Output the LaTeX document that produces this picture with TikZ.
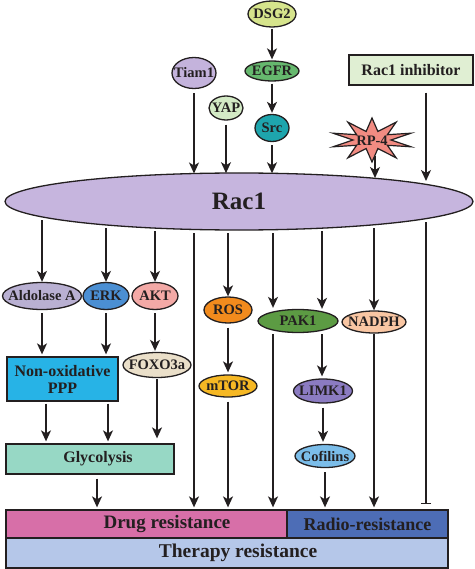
\documentclass[tikz,border=0pt]{standalone}
\usepackage{fontspec}
\setmainfont{Liberation Serif}
\usetikzlibrary{shapes.geometric,arrows.meta}
\definecolor{ink}{HTML}{231F20}
\definecolor{cDSG}{HTML}{D6E48C}
\definecolor{cEGFR}{HTML}{66B86E}
\definecolor{cSrc}{HTML}{1EA5AD}
\definecolor{cTiam}{HTML}{C4B3DC}
\definecolor{cYAP}{HTML}{D3EAC5}
\definecolor{cInh}{HTML}{E0EFD3}
\definecolor{cRP}{HTML}{F28B82}
\definecolor{cRac}{HTML}{C6B5DE}
\definecolor{cAld}{HTML}{B9B0D2}
\definecolor{cERK}{HTML}{4B8FD3}
\definecolor{cAKT}{HTML}{F3A9A6}
\definecolor{cFOX}{HTML}{EADFC9}
\definecolor{cNox}{HTML}{27B3E6}
\definecolor{cGly}{HTML}{97D8C5}
\definecolor{cROS}{HTML}{F28B1D}
\definecolor{cMTOR}{HTML}{F6B824}
\definecolor{cPAK}{HTML}{5C9B43}
\definecolor{cNADPH}{HTML}{F9C6A3}
\definecolor{cLIMK}{HTML}{8B7BC1}
\definecolor{cCof}{HTML}{7BBDE9}
\definecolor{cDrug}{HTML}{D76FA8}
\definecolor{cRadio}{HTML}{4D6DB6}
\definecolor{cTher}{HTML}{B5C7E9}
\newcommand{\zerowd}[1]{\makebox[0pt]{#1}}
\begin{document}
\begin{tikzpicture}[x=1pt,y=-1pt,
  every node/.style={text=ink},
  ell/.style={ellipse, draw=ink, line width=1.3pt, inner sep=0pt, font=\fontsize{14.5}{16}\selectfont\bfseries},
  box/.style={rectangle, draw=ink, line width=1.3pt, inner sep=0pt, align=center},
  arr/.style={draw=ink, line width=1.4pt, -{Stealth[length=11pt,width=10pt,inset=3pt]}},
  inh/.style={draw=ink, line width=1.4pt, -{Bar[width=10pt]}},
]
\useasboundingbox (0,0) rectangle (474,569);

% upstream
\node[ell, fill=cDSG, minimum width=48pt, minimum height=26pt] (dsg) at (272,14) {\zerowd{DSG2}};
\node[ell, fill=cEGFR, minimum width=54pt, minimum height=20pt] (egfr) at (272,71) {\zerowd{EGFR}};
\node[ell, fill=cSrc, minimum width=34pt, minimum height=27pt] (src) at (272,128) {\zerowd{Src}};
\node[ell, fill=cTiam, minimum width=44pt, minimum height=31pt] (tiam) at (194,73) {\zerowd{Tiam1}};
\node[ell, fill=cYAP, minimum width=34pt, minimum height=24pt] (yap) at (226,108) {\zerowd{YAP}};
\node[box, fill=cInh, minimum width=124pt, minimum height=30pt, font=\fontsize{16}{18}\selectfont\bfseries] (rinh) at (411,70) {Rac1 inhibitor};
\draw[draw=ink, line width=1.2pt, fill=cRP] plot[samples at={0,...,19}]
  ({372+cos(18*\x+90)*(mod(\x,2)==0 ? 41 : 19)}, {140+sin(18*\x+90)*(mod(\x,2)==0 ? 22 : 9)}) -- cycle;
\node[minimum height=30pt, inner sep=0pt, font=\fontsize{14.5}{16}\selectfont\bfseries] (rp4) at (372,141) {RP-4};

% Rac1
\node[ell, fill=cRac, minimum width=468pt, minimum height=57pt, font=\fontsize{25}{28}\selectfont\bfseries] (rac) at (239,201.5) {Rac1};

% boundary points of Rac1
\coordinate (t1) at (194,173.5);
\coordinate (t2) at (226,173.2);
\coordinate (t3) at (272,173.3);
\coordinate (t4) at (375,178);
\coordinate (t5) at (426,181);
\coordinate (b1) at (42,220);
\coordinate (b2) at (106,228);
\coordinate (b3) at (155,231);
\coordinate (b4) at (194,233);
\coordinate (b5) at (228,233);
\coordinate (b6) at (273,233);
\coordinate (b7) at (322,231);
\coordinate (b8) at (374,228);
\coordinate (b9) at (426,222);

% downstream
\node[ell, fill=cAld, minimum width=79pt, minimum height=27pt] (ald) at (42,296) {\zerowd{Aldolase A}};
\node[ell, fill=cERK, minimum width=46pt, minimum height=27pt] (erk) at (106,296) {\zerowd{ERK}};
\node[ell, fill=cAKT, minimum width=46pt, minimum height=27pt] (akt) at (155,296) {\zerowd{AKT}};
\node[ell, fill=cFOX, minimum width=68pt, minimum height=25pt] (fox) at (157,365) {\zerowd{FOXO3a}};
\node[ell, fill=cROS, minimum width=48pt, minimum height=26pt] (ros) at (228,310) {\zerowd{ROS}};
\node[ell, fill=cMTOR, minimum width=58pt, minimum height=22pt] (mtor) at (228,386) {\zerowd{mTOR}};
\node[ell, fill=cPAK, minimum width=80pt, minimum height=23pt] (pak) at (298,321) {\zerowd{PAK1}};
\node[ell, fill=cNADPH, minimum width=64pt, minimum height=22pt] (nadph) at (374,322) {\zerowd{NADPH}};
\node[ell, fill=cLIMK, minimum width=59pt, minimum height=24pt] (limk) at (323,391) {\zerowd{LIMK1}};
\node[ell, fill=cCof, minimum width=60pt, minimum height=23pt] (cof) at (325,456) {\zerowd{Cofilins}};

\node[box, fill=cNox, minimum width=111pt, minimum height=44pt, font=\fontsize{16}{17}\selectfont\bfseries] (nox) at (62.5,379) {Non-oxidative\\PPP};
\node[box, fill=cGly, minimum width=168pt, minimum height=30pt, font=\fontsize{16}{18}\selectfont\bfseries] (gly) at (90,459) {\hspace*{16pt}Glycolysis};

\node[box, fill=cDrug, minimum width=281pt, minimum height=28pt, font=\fontsize{19}{21}\selectfont\bfseries] (drug) at (146.5,524) {\hspace*{41pt}Drug resistance};
\node[box, fill=cRadio, minimum width=161pt, minimum height=28pt, font=\fontsize{18}{20}\selectfont\bfseries] (radio) at (367.5,524) {Radio-resistance};
\node[box, fill=cTher, minimum width=442pt, minimum height=30pt, font=\fontsize{19.5}{22}\selectfont\bfseries] (ther) at (227,553) {\hspace*{22pt}Therapy resistance};

% upstream connectors
\draw[arr, shorten <=1pt, shorten >=1pt] (dsg.south) -- (egfr.north);
\draw[arr, shorten <=2pt, shorten >=1pt] (egfr.south) -- (src.north);
\draw[arr, shorten <=3pt] (src.south) -- (t3);
\draw[arr, shorten <=4pt] (tiam.south) -- (t1);
\draw[arr, shorten <=4pt] (yap.south) -- (t2);
\draw[arr] (rp4.south -| t4) -- (t4);
\draw[arr, shorten <=7pt] (rinh.south -| t5) -- (t5);

% downstream connectors
\draw[arr] (b1) -- (b1 |- ald.north);
\draw[arr] (b2) -- (b2 |- erk.north);
\draw[arr] (b3) -- (b3 |- akt.north);
\draw[arr, shorten >=2pt] (b4) -- (b4 |- drug.north);
\draw[arr] (b5) -- (b5 |- ros.north);
\draw[arr, shorten >=1pt] (b6) -- (b6 |- pak.north);
\draw[arr] (b7) -- (b7 |- pak.north);
\draw[arr] (b8) -- (nadph.north);
\draw[inh, shorten >=5pt] (b9) -- (b9 |- radio.north);

\draw[arr, shorten <=3pt, shorten >=2pt] (ald.south) -- (ald.south |- nox.north);
\draw[arr, shorten <=3pt, shorten >=2pt] (erk.south) -- (erk.south |- nox.north);
\draw[arr, shorten <=3pt, shorten >=1pt] (akt.south) -- (fox.north -| akt.south);
\draw[arr, shorten <=2pt, shorten >=2pt] (nox.south -| 46,0) -- (gly.north -| 46,0);
\draw[arr, shorten <=2pt, shorten >=2pt] (nox.south -| 108,0) -- (gly.north -| 108,0);
\draw[arr, shorten <=1pt, shorten >=5pt] (fox.south) -- (fox.south |- gly.north);
\draw[arr, shorten <=4pt, shorten >=2pt] (gly.south -| 97,0) -- (drug.north -| 97,0);
\draw[arr, shorten <=4pt, shorten >=2pt] (ros.south) -- (mtor.north);
\draw[arr, shorten <=4pt, shorten >=2pt] (mtor.south) -- (mtor.south |- drug.north);
\draw[arr, shorten <=1pt, shorten >=2pt] (b6 |- pak.south) -- (b6 |- drug.north);
\draw[arr, shorten <=1pt, shorten >=2pt] (b7 |- pak.south) -- (b7 |- limk.north);
\draw[arr, shorten <=4pt, shorten >=2pt] (limk.south) -- (limk.south |- cof.north);
\draw[arr, shorten <=4pt, shorten >=2pt] (cof.south) -- (cof.south |- radio.north);
\draw[arr, shorten >=2pt] (nadph.south) -- (nadph.south |- radio.north);
\end{tikzpicture}
\end{document}
